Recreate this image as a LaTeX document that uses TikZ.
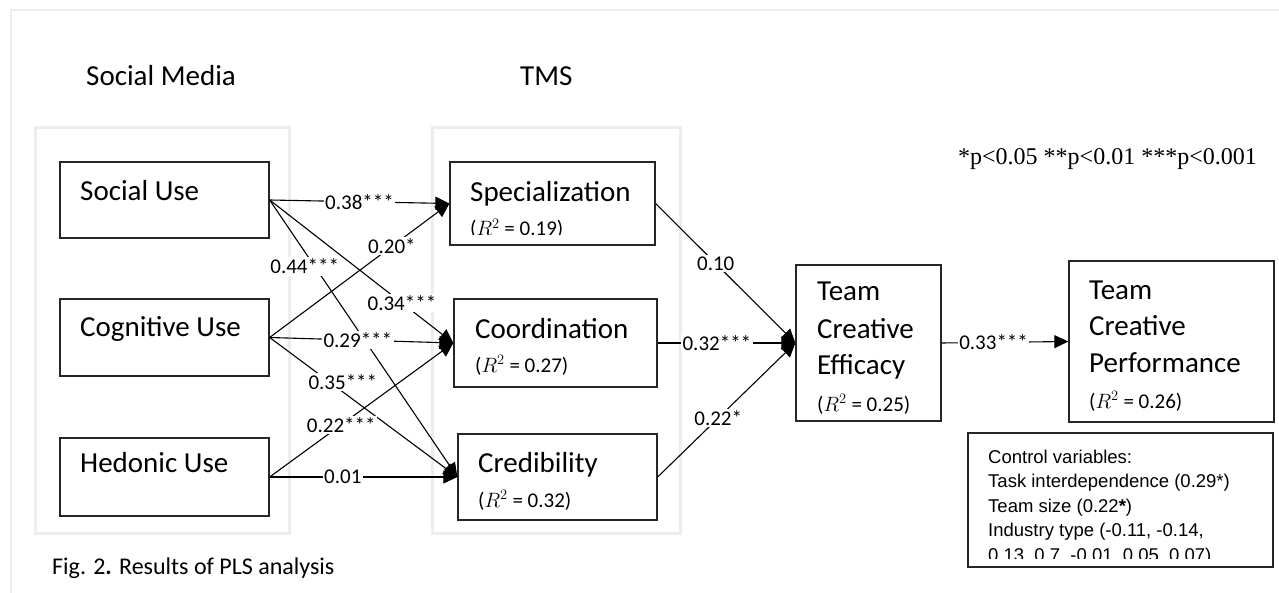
\documentclass[tikz,border=0pt]{standalone}
\usepackage{fontspec}
\setmainfont{Carlito}
\newfontfamily\timesfont{Liberation Serif}
\newfontfamily\arialfont{Liberation Sans}
\usetikzlibrary{arrows.meta,fit}

\begin{document}
\begin{tikzpicture}[x=1pt, y=-1pt,
    box/.style={draw=black!85, line width=1.3pt, inner sep=0pt},
    group/.style={draw=black!7, line width=3pt},
    txt/.style={anchor=base west, inner sep=0pt, font=\fontsize{29}{35}\selectfont},
    rsq/.style={anchor=base west, inner sep=0pt, font=\fontsize{21}{25}\selectfont},
    coef/.style={fill=white, inner sep=1.5pt, font=\fontsize{21}{25}\selectfont},
    link/.style={line width=1.1pt, -{Triangle[length=14pt,width=13pt]}}]
  \useasboundingbox (0,0) rectangle (1279,593);
  % page frame and the two groups
  \draw[black!7, line width=2pt] (11,593) -- (11,10) -- (1279,10);
  \draw[group] (35,128) rectangle (289,533);
  \draw[group] (432,128) rectangle (680,533);
  \node[txt] (hsm) at (86,86) {Social Media};
  \node[txt] (htms) at (520,86) {TMS};
  % social media use
  \node[box, fit={(60,162) (269,238)}] (soc) {};
  \node[txt] (soc-t) at (80,201) {Social Use};
  \node[box, fit={(60,299) (269,376)}] (cog) {};
  \node[txt] (cog-t) at (80,337) {Cognitive Use};
  \node[box, fit={(60,438) (269,516)}] (hed) {};
  \node[txt] (hed-t) at (80,472) {Hedonic Use};
  % TMS
  \node[box, fit={(450,162) (655,245)}] (spec) {};
  \node[txt] (spec-t) at (470,202) {Specialization};
  \begin{scope}
    \clip (450,162) rectangle (655,235);
    \node[rsq] (spec-r) at (470,236) {($R^2$ = 0.19)};
  \end{scope}
  \node[box, fit={(454,299) (657,387)}] (coord) {};
  \node[txt] (coord-t) at (475,339) {Coordination};
  \node[rsq] (coord-r) at (475,372) {($R^2$ = 0.27)};
  \node[box, fit={(458,434) (657,520)}] (cred) {};
  \node[txt] (cred-t) at (478,472) {Credibility};
  \node[rsq] (cred-r) at (478,507) {($R^2$ = 0.32)};
  % outcomes
  \node[box, fit={(796,265) (941,421)}] (eff) {};
  \node[txt] (eff-t1) at (817,301) {Team};
  \node[txt] (eff-t2) at (817,338) {Creative};
  \node[txt] (eff-t3) at (817,374) {Efficacy};
  \node[rsq] (eff-r) at (817,411) {($R^2$ = 0.25)};
  \node[box, fit={(1069,261) (1274,422)}] (perf) {};
  \node[txt] (perf-t1) at (1089,300) {Team};
  \node[txt] (perf-t2) at (1089,336) {Creative};
  \node[txt] (perf-t3) at (1089,372) {Performance};
  \node[rsq] (perf-r) at (1089,408) {($R^2$ = 0.26)};
  % paths
  \draw[link] (soc.east) -- node[coef, pos=0.5] (c1) {0.38***} (spec.west);
  \draw[link] (soc.east) -- node[coef, pos=0.72] (c2) {0.34***} (coord.west);
  \draw[link] (soc.east) -- node[coef, pos=0.24, xshift=-10pt] (c3) {0.44***} (cred.west);
  \draw[link] (cog.east) -- node[coef, pos=0.68] (c4) {0.20*} (spec.west);
  \draw[link] (cog.east) -- node[coef, pos=0.48] (c5) {0.29***} (coord.west);
  \draw[link] (cog.east) -- node[coef, pos=0.39, yshift=10pt] (c6) {0.35***} (cred.west);
  \draw[link] (hed.east) -- node[coef, pos=0.39] (c7) {0.22***} (coord.west);
  \draw[link] (hed.east) -- node[coef, pos=0.39] (c8) {0.01} (cred.west);
  \draw[link] (spec.east) -- node[coef, pos=0.43] (c9) {0.10} (eff.west);
  \draw[link] (coord.east) -- node[coef, pos=0.43] (c10) {0.32***} (eff.west);
  \draw[link] (cred.east) -- node[coef, pos=0.44] (c11) {0.22*} (eff.west);
  \draw[link] (eff.east) -- node[coef, pos=0.41] (c12) {0.33***} (perf.west);
  % controls and notes
  \node[box, fit={(968,433) (1273,567)}] (ctl) {};
  \begin{scope}
    \clip (968,433) rectangle (1273,558);
    \foreach \ln [count=\i] in {{Control variables:}, {Task interdependence (0.29*)},
        {Team size (0.22\textbf{*})}, {Industry type (-0.11, -0.14,}, {0.13, 0.7, -0.01, 0.05, 0.07)}}
      \node[anchor=base west, inner sep=0pt, font=\arialfont\fontsize{18.5}{22}\selectfont]
        (ctl-\i) at (988,{463+(\i-1)*24.5}) {\ln};
  \end{scope}
  \node[anchor=base west, inner sep=0pt, font=\timesfont\fontsize{24}{28}\selectfont]
    (sig) at (958,165) {*p<0.05 **p<0.01 ***p<0.001};
  \node[anchor=base west, inner sep=0pt, font=\fontsize{24}{28}\selectfont]
    (cap) at (52,574) {Fig. 2\textbf{.} Results of PLS analysis};
\end{tikzpicture}
\end{document}
